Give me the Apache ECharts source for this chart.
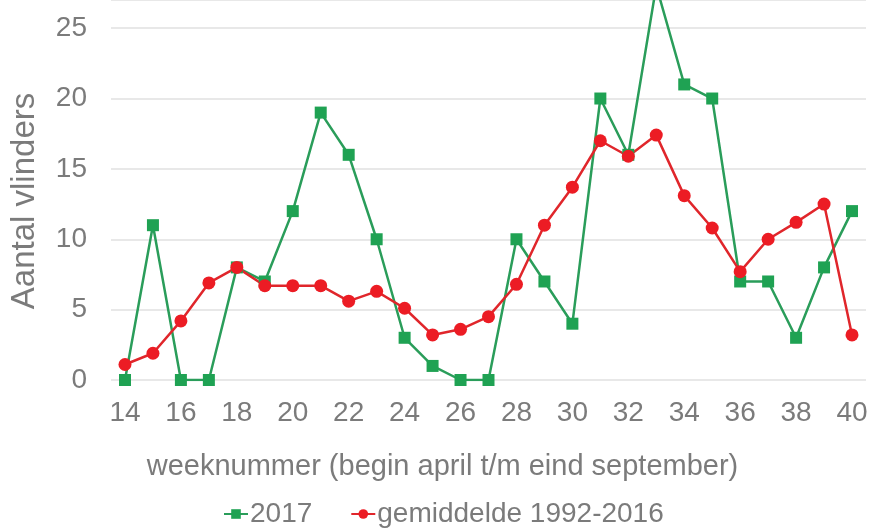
<!DOCTYPE html>
<html>
<head>
<meta charset="utf-8">
<title>Aantal vlinders per week</title>
<script src="https://cdn.jsdelivr.net/npm/echarts@6/dist/echarts.min.js"></script>
<style>
  html, body { margin: 0; padding: 0; background: #fff; }
  #chart { width: 871px; height: 529px; }
</style>
</head>
<body>
<div id="chart"></div>
<script>
// weeknummers
var weeks = ['14', '15', '16', '17', '18', '19', '20', '21', '22', '23', '24', '25', '26', '27',
  '28', '29', '30', '31', '32', '33', '34', '35', '36', '37', '38', '39', '40']
// telling 2017
var data2017 = [0, 11, 0, 0, 8, 7, 12, 19, 16, 10, 3, 1, 0, 0,
  10, 7, 4, 20, 16, 28, 21, 20, 7, 7, 3, 8, 12]
// gemiddelde 1992-2016
var dataAvg = [1.1, 1.9, 4.2, 6.9, 8, 6.7, 6.7, 6.7, 5.6, 6.3, 5.1, 3.2, 3.6, 4.5,
  6.8, 11, 13.7, 17, 15.9, 17.4, 13.1, 10.8, 7.7, 10, 11.2, 12.5, 3.2]

var grey = '#7b7b7b'
var font = '"Liberation Sans", Arial, sans-serif'

var myChart = echarts.init(document.getElementById('chart'))
var option = {
  backgroundColor: '#fff',
  animation: false,
  textStyle: { fontFamily: font },
  grid: {
    left: 111,
    right: 5,
    top: -1,
    bottom: 149
  },
  legend: {
    left: 218,
    bottom: -4,
    itemWidth: 24,
    itemHeight: 12,
    itemGap: 38,
    textStyle: { color: grey, fontSize: 28, fontFamily: font, padding: [0, 0, 0, -3] },
    data: ['2017', 'gemiddelde 1992-2016']
  },
  xAxis: {
    type: 'category',
    data: weeks,
    boundaryGap: true,
    name: 'weeknummer (begin april t/m eind september)',
    nameLocation: 'middle',
    nameGap: 72,
    // naam staat iets links van het midden
    nameTextStyle: { color: grey, fontSize: 29, fontFamily: font, padding: [0, 92, 0, 0] },
    axisLine: { show: false },
    axisTick: { show: false },
    axisLabel: {
      interval: 1, // om de week een label
      color: grey,
      fontSize: 28,
      margin: 19,
      fontFamily: font
    }
  },
  yAxis: {
    type: 'value',
    min: 0,
    max: 27,
    interval: 5,
    name: 'Aantal vlinders',
    nameLocation: 'middle',
    nameGap: 70,
    nameTextStyle: { color: grey, fontSize: 33, fontFamily: font, padding: [0, 22, 0, 0] },
    axisLine: { show: false },
    axisTick: { show: false },
    axisLabel: { color: grey, fontSize: 28, margin: 24, fontFamily: font, showMaxLabel: false },
    splitLine: { lineStyle: { color: '#e8e8e8', width: 2 } }
  },
  series: [
    {
      name: '2017',
      type: 'line',
      data: data2017,
      symbol: 'rect',
      symbolSize: 12,
      clip: true,
      color: '#1fa253',
      lineStyle: { color: '#2a9d5a', width: 2.5 },
      itemStyle: { color: '#1fa253' }
    },
    {
      name: 'gemiddelde 1992-2016',
      type: 'line',
      data: dataAvg,
      symbol: 'circle',
      symbolSize: 13,
      clip: true,
      color: '#ec1c24',
      lineStyle: { color: '#e0262b', width: 2.5 },
      itemStyle: { color: '#ec1c24' }
    }
  ]
}
myChart.setOption(option)
window.addEventListener('resize', () => {
  myChart.resize()
})
</script>
</body>
</html>
